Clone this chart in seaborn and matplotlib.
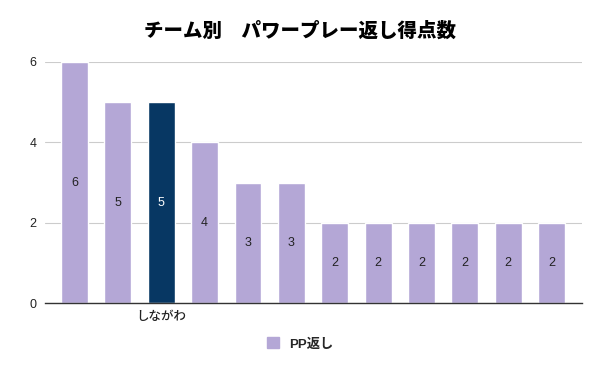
import pandas as pd
import matplotlib
matplotlib.use("Agg")
import matplotlib.pyplot as plt
import seaborn as sns
from matplotlib.patches import Patch

# data (only one team name is visible)
teams = ["", "", "しながわ", "", "", "", "", "", "", "", "", ""]
pp_counts = [6, 5, 5, 4, 3, 3, 2, 2, 2, 2, 2, 2]
highlight = 2
series_name = "PP返し"
title = "チーム別　パワープレー返し得点数"

light = "#b4a7d6"
dark = "#073763"

sns.set_style("white")
plt.rcParams['font.family'] = ['Liberation Sans', 'Noto Sans CJK JP', 'DejaVu Sans']

df = pd.DataFrame({"pos": [str(i) for i in range(len(pp_counts))], "value": pp_counts})
colors = [dark if i == highlight else light for i in range(len(pp_counts))]

fig = plt.figure(figsize=(6, 3.71), dpi=100)
ax = fig.add_axes([0.075, 0.183, 0.895, 0.65])

sns.barplot(data=df, x="pos", y="value", hue="pos", palette=colors,
            legend=False, width=0.62, saturation=1, ax=ax)

for i, v in enumerate(pp_counts):
    c = "white" if i == highlight else "#222222"
    ax.text(i, v / 2, str(v), ha="center", va="center", fontsize=9, color=c)

ax.set_ylim(0, 6)
ax.set_yticks([0, 2, 4, 6])
ax.set_xlim(-0.68, len(pp_counts) - 0.3)
ax.yaxis.grid(True, color="#cccccc", linewidth=0.8)
ax.set_axisbelow(True)
ax.set_xticks(range(len(teams)))
ax.set_xticklabels(teams, fontsize=9, color="#222222", fontweight="medium")
ax.tick_params(axis="x", length=0, pad=6)
ax.tick_params(axis="y", length=0, labelsize=9, labelcolor="#222222", pad=6)
ax.set_xlabel("")
ax.set_ylabel("")
for s in ["top", "right", "left"]:
    ax.spines[s].set_visible(False)
ax.spines["bottom"].set_color("#333333")
ax.spines["bottom"].set_linewidth(1)

fig.text(0.5, 0.915, title, ha="center", va="center", fontsize=14,
         fontweight="heavy", color="black",
         family=['Noto Sans CJK JP', 'DejaVu Sans'])

fig.legend(handles=[Patch(color=light, label=series_name)], loc="center",
           bbox_to_anchor=(0.5, 0.073), frameon=False,
           handlelength=0.9, handleheight=0.9,
           prop={"weight": "bold", "size": 9.5, "family": ['Liberation Sans', 'Noto Sans CJK JP']})

fig.savefig("out.png", dpi=100)
